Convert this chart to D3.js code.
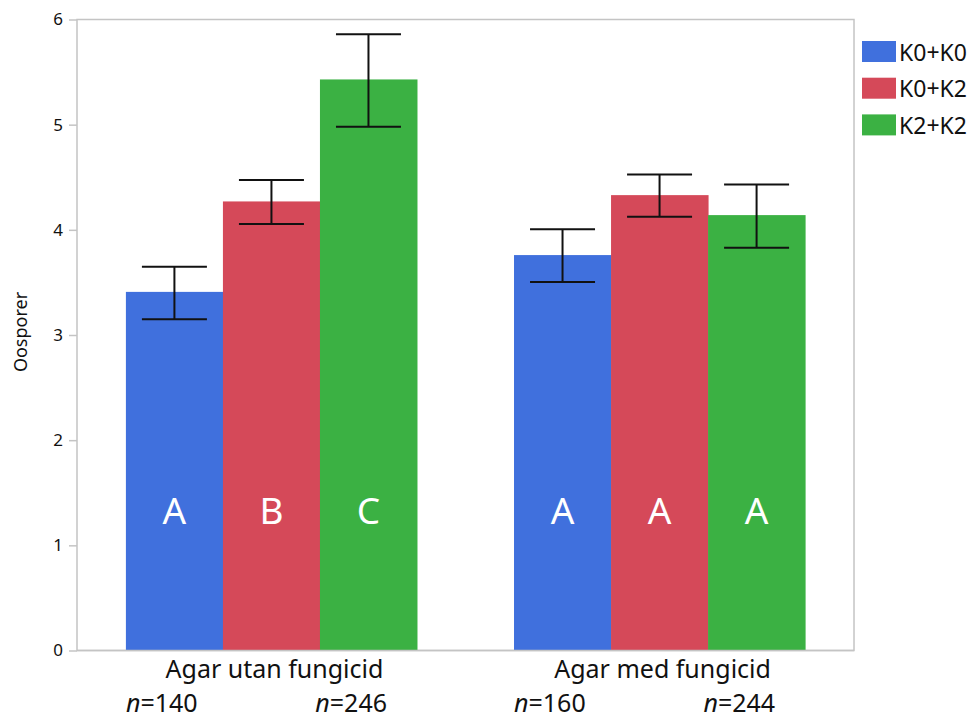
<!DOCTYPE html>
<html>
<head>
<meta charset="utf-8">
<script src="https://cdn.jsdelivr.net/npm/d3@7"></script>
<style>
  html, body { margin: 0; padding: 0; background: #ffffff; }
  svg { display: block; font-family: "Noto Sans", "Open Sans", sans-serif; }
</style>
</head>
<body>
<svg id="chart" width="980" height="718"></svg>
<script>
// ---- data ----
const groups = ["Agar utan fungicid", "Agar med fungicid"];
const seriesNames = ["K0+K0", "K0+K2", "K2+K2"];
const seriesColors = ["#4070dd", "#d54959", "#3bb143"];
const means   = [[3.41, 4.27, 5.43], [3.76, 4.33, 4.14]];
const errLow  = [[3.15, 4.055, 4.98], [3.505, 4.125, 3.83]];
const errHigh = [[3.65, 4.475, 5.86], [4.005, 4.525, 4.43]];
const letters = [["A", "B", "C"], ["A", "A", "A"]];
const nLeft  = ["140", "160"];
const nRight = ["246", "244"];
const yTicks = [0, 1, 2, 3, 4, 5, 6];
const yTitle = "Oosporer";

// ---- layout ----
const svg = d3.select("#chart");
const plot = { left: 77, right: 854, top: 19.5, bottom: 650.5 };

const y = d3.scaleLinear().domain([0, 6]).range([plot.bottom, plot.top]);
const x0 = d3.scaleBand().domain(groups).range([plot.left, plot.right]).paddingInner(0.25).paddingOuter(0.126);
const x1 = d3.scaleBand().domain(seriesNames).range([0, x0.bandwidth()]);

// frame
svg.append("rect")
  .attr("x", plot.left).attr("y", plot.top)
  .attr("width", plot.right - plot.left).attr("height", plot.bottom - plot.top)
  .attr("fill", "none").attr("stroke", "#c4c4c4").attr("stroke-width", 1.5);

// y axis
const yAxis = d3.axisLeft(y).tickValues(yTicks).tickSize(8).tickPadding(6).tickFormat(d3.format("d"));
const gy = svg.append("g").attr("transform", `translate(${plot.left},0)`).call(yAxis);
gy.select(".domain").remove();
gy.selectAll(".tick line").attr("stroke", "#c4c4c4").attr("stroke-width", 1.5);
gy.selectAll(".tick text").attr("font-size", 17).attr("fill", "#111").attr("font-family", "Noto Sans");

// y title
svg.append("text")
  .attr("transform", `translate(27,332) rotate(-90)`)
  .attr("text-anchor", "middle")
  .attr("font-size", 18).attr("fill", "#111")
  .text(yTitle);

// bars
const gGroups = svg.append("g").selectAll("g").data(groups).join("g")
  .attr("transform", d => `translate(${x0(d)},0)`);

gGroups.each(function(g, gi) {
  const sel = d3.select(this);
  seriesNames.forEach((s, si) => {
    const bx = x1(s), bw = x1.bandwidth();
    sel.append("rect")
      .attr("x", bx).attr("width", bw + 0.5)
      .attr("y", y(means[gi][si])).attr("height", y(0) - y(means[gi][si]))
      .attr("fill", seriesColors[si]);
  });
  seriesNames.forEach((s, si) => {
    const cx = x1(s) + x1.bandwidth() / 2;
    const cap = 32.5;
    const eg = sel.append("g").attr("stroke", "#111").attr("stroke-width", 2);
    eg.append("line").attr("x1", cx).attr("x2", cx).attr("y1", y(errLow[gi][si])).attr("y2", y(errHigh[gi][si]));
    eg.append("line").attr("x1", cx - cap).attr("x2", cx + cap).attr("y1", y(errLow[gi][si])).attr("y2", y(errLow[gi][si]));
    eg.append("line").attr("x1", cx - cap).attr("x2", cx + cap).attr("y1", y(errHigh[gi][si])).attr("y2", y(errHigh[gi][si]));
    sel.append("text")
      .attr("x", cx).attr("y", 524)
      .attr("text-anchor", "middle").attr("font-size", 37).attr("fill", "#ffffff")
      .text(letters[gi][si]);
  });
});

// re-draw bottom frame line over bars
svg.append("line")
  .attr("x1", plot.left).attr("x2", plot.right).attr("y1", plot.bottom).attr("y2", plot.bottom)
  .attr("stroke", "#c4c4c4").attr("stroke-width", 1.5);

// category labels
groups.forEach((g, gi) => {
  svg.append("text")
    .attr("x", x0(g) + x0.bandwidth() / 2 + 3).attr("y", 678)
    .attr("text-anchor", "middle").attr("font-size", 25).attr("fill", "#111")
    .text(g);
  const nl = svg.append("text")
    .attr("x", x0(g)).attr("y", 712)
    .attr("text-anchor", "start").attr("font-size", 25).attr("fill", "#111");
  nl.append("tspan").attr("font-style", "italic").text("n");
  nl.append("tspan").text("=" + nLeft[gi]);
  const nr = svg.append("text")
    .attr("x", x0(g) + x0.bandwidth() - 30).attr("y", 712)
    .attr("text-anchor", "end").attr("font-size", 25).attr("fill", "#111");
  nr.append("tspan").attr("font-style", "italic").text("n");
  nr.append("tspan").text("=" + nRight[gi]);
});

// legend
const lg = svg.append("g").attr("transform", "translate(862,41)");
seriesNames.forEach((s, i) => {
  const row = lg.append("g").attr("transform", `translate(0,${i * 36.7})`);
  row.append("rect").attr("width", 34).attr("height", 21).attr("fill", seriesColors[i]);
  row.append("text").attr("x", 37).attr("y", 19.5).attr("font-size", 23).attr("fill", "#111").text(s);
});
</script>
</body>
</html>
